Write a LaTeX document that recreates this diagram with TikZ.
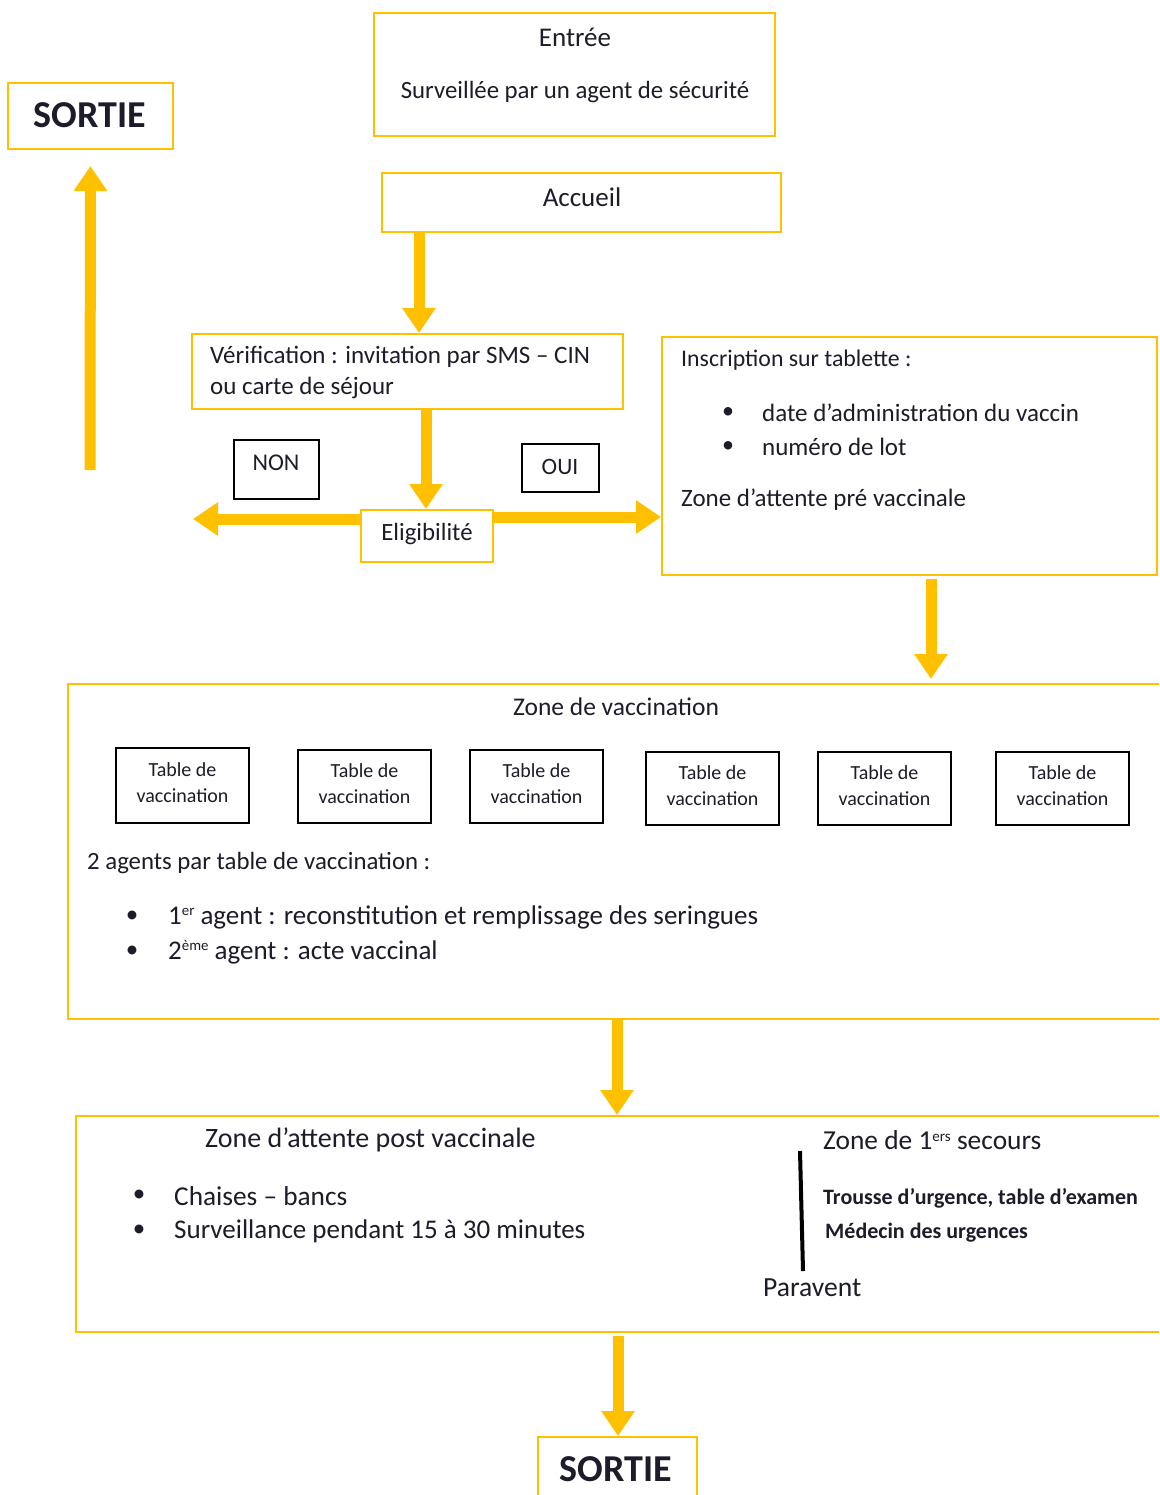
\documentclass[tikz,border=0pt]{standalone}
\usepackage{fontspec}
\setmainfont{Carlito}
\usetikzlibrary{arrows.meta}
\definecolor{gold}{HTML}{FFC000}
\definecolor{ink}{HTML}{1C1C2A}
\newcommand\fsz[1]{\fontsize{#1}{#1}\selectfont}
\newcommand\supx[1]{\raisebox{0.3em}{\fontsize{0.55em}{0.55em}\selectfont #1}}
\begin{document}
\begin{tikzpicture}[x=1pt,y=-1pt,
  box/.style={draw=gold, line width=2pt, inner sep=0pt},
  tbox/.style={draw=black, line width=2pt, inner sep=0pt},
  flow/.style={draw=gold, line width=11pt, -{Triangle[width=32pt,length=25pt]}},
  txt/.style={text=ink, inner sep=0pt},
  lt/.style={txt, anchor=west}
]
\clip (0,0) rectangle (1159,1495);
\fill[white] (0,0) rectangle (1159,1495);

% boxes
\node[box, minimum width=165pt, minimum height=66pt] (sortieTop) at (90.5,116) {};
\node[txt, font=\fsz{38}\bfseries] at (90,115) {SORTIE};

\node[box, minimum width=401pt, minimum height=123pt] (entree) at (574.5,74.5) {};
\node[txt, font=\fsz{27}] at (575,37) {Entrée};
\node[txt, font=\fsz{24.8}] at (575,92) {Surveillée par un agent de sécurité};

\node[box, minimum width=399pt, minimum height=59pt] (accueil) at (581.5,202.5) {};
\node[txt, font=\fsz{27}] at (582,197) {Accueil};

\node[box, minimum width=431pt, minimum height=75pt] (verif) at (407.5,371.5) {};
\node[lt, font=\fsz{25}] at (210,357) {Vérification : invitation par SMS – CIN};
\node[lt, font=\fsz{25}] at (210,388) {ou carte de séjour};

\node[box, minimum width=132pt, minimum height=52pt] (elig) at (427,536) {};
\node[txt, font=\fsz{24.8}] at (427,534) {Eligibilité};

\node[tbox, minimum width=85pt, minimum height=59pt] (non) at (276.5,469.5) {};
\node[txt, font=\fsz{24}] at (276,463) {NON};
\node[tbox, minimum width=77pt, minimum height=48pt] (oui) at (560.5,468) {};
\node[txt, font=\fsz{23.5}] at (560,467) {OUI};

\node[box, minimum width=495pt, minimum height=238pt] (inscr) at (909.5,456) {};
\node[lt, font=\fsz{23.8}] at (681,360) {Inscription sur tablette :};
\node[txt, font=\fsz{24}] at (728,413) {•};
\node[lt, font=\fsz{25}] at (762,413) {date d’administration du vaccin};
\node[txt, font=\fsz{24}] at (728,447) {•};
\node[lt, font=\fsz{25}] at (762,447) {numéro de lot};
\node[lt, font=\fsz{25}] at (681,500) {Zone d’attente pré vaccinale};

% zone de vaccination
\node[box, minimum width=1112pt, minimum height=335pt] (zvac) at (624,851.5) {};
\node[txt, font=\fsz{25.5}] at (616,707) {Zone de vaccination};
\node[tbox, minimum width=133pt, minimum height=75pt] (t1) at (182.5,785.5) {};
\node[tbox, minimum width=133pt, minimum height=73pt] (t2) at (364.5,786.5) {};
\node[tbox, minimum width=133pt, minimum height=73pt] (t3) at (536.5,786.5) {};
\node[tbox, minimum width=133pt, minimum height=73pt] (t4) at (712.5,788.5) {};
\node[tbox, minimum width=133pt, minimum height=73pt] (t5) at (884.5,788.5) {};
\node[tbox, minimum width=133pt, minimum height=73pt] (t6) at (1062.5,788.5) {};
\foreach \t in {t1,t2,t3,t4,t5,t6}{
  \node[txt, font=\fsz{20}] at ([yshift=16pt]\t.center) {Table de};
  \node[txt, font=\fsz{20}] at ([yshift=-10pt]\t.center) {vaccination};
}
\node[lt, font=\fsz{24.8}] at (87,863) {2 agents par table de vaccination :};
\node[txt, font=\fsz{25}] at (132,917) {•};
\node[lt, font=\fsz{27}] at (168,917) {1\supx{er} agent : reconstitution et remplissage des seringues};
\node[txt, font=\fsz{25}] at (132,952) {•};
\node[lt, font=\fsz{27}] at (168,952) {2\supx{ème} agent : acte vaccinal};

% zone post vaccinale
\node[box, minimum width=1104pt, minimum height=216pt] (post) at (628,1224) {};
\node[lt, font=\fsz{28}] at (205,1140) {Zone d’attente post vaccinale};
\node[txt, font=\fsz{25}] at (139,1196) {•};
\node[lt, font=\fsz{27.3}] at (174,1196) {Chaises – bancs};
\node[txt, font=\fsz{25}] at (139,1231) {•};
\node[lt, font=\fsz{27}] at (174,1231) {Surveillance pendant 15 à 30 minutes};
\node[lt, font=\fsz{27.4}] at (823,1140) {Zone de 1\supx{ers} secours};
\node[lt, font=\fsz{22}\bfseries] at (823,1198) {Trousse d’urgence, table d’examen};
\node[lt, font=\fsz{22}\bfseries] at (825,1233) {Médecin des urgences};
\coordinate (pv1) at (800,1151);
\coordinate (pv2) at (803,1271);
\draw[black, line width=4pt] (pv1) -- (pv2);
\node[lt, font=\fsz{27.6}] (paravent) at (763,1288) {Paravent};

\node[box, minimum width=159pt, minimum height=73pt] (sortieBot) at (617.5,1473.5) {};
\node[txt, font=\fsz{38}\bfseries] at (616,1469) {SORTIE};

% connectors
\coordinate (xA) at (419,0);
\draw[flow] (xA |- accueil.south) -- (xA |- verif.north);
\coordinate (xB) at (426,0);
\draw[flow] (xB |- verif.south) -- (xB |- elig.north);
\coordinate (yL) at (0,519);
\coordinate (nonEnd) at (193,519);
\draw[flow] (elig.west |- yL) -- (nonEnd);
\coordinate (yR) at (0,517);
\draw[flow] (elig.east |- yR) -- (inscr.west |- yR);
\coordinate (upStart) at (90,470);
\draw[flow, shorten >=16pt] (upStart) -- (sortieTop.south);
\coordinate (xC) at (931,0);
\draw[flow, shorten <=3pt, shorten >=4pt] (xC |- inscr.south) -- (xC |- zvac.north);
\coordinate (xD) at (617,0);
\draw[flow] (xD |- zvac.south) -- (xD |- post.north);
\coordinate (xE) at (618,0);
\draw[flow, shorten <=3pt] (xE |- post.south) -- (xE |- sortieBot.north);
\end{tikzpicture}
\end{document}
